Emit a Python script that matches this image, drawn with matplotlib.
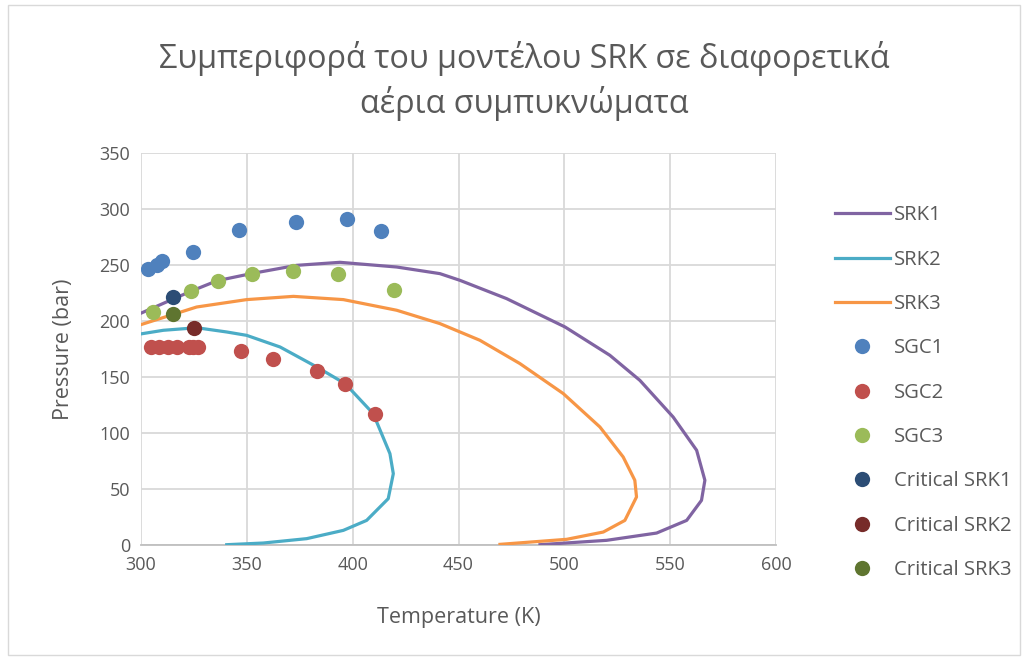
import matplotlib.pyplot as plt
from matplotlib.patches import Rectangle

plt.rcParams['font.family'] = ['Open Sans', 'DejaVu Sans']

# Καμπύλες SRK (T σε K, P σε bar)
srk1_T = [300, 323.5, 336, 352.6, 373.5, 394, 420.8, 441.2, 450.7, 472.7, 500.3, 521.5,
          535.7, 551.4, 562.5, 566.4, 564.8, 557.8, 543.6, 520, 488.5]
srk1_P = [207, 226.5, 236, 242.5, 249.7, 252.4, 248.2, 242.3, 236.3, 220, 194.7, 169.4,
          147, 114.3, 84.6, 57.8, 39.9, 22, 10.7, 4.2, 0.3]

srk2_T = [300, 310.5, 326.3, 340.5, 349.9, 365.7, 383, 396.5, 409.7, 417.6, 419.2,
          416.8, 406.6, 395.6, 378.3, 357.8, 340.5]
srk2_P = [188.5, 191.7, 194, 190.2, 187.2, 176.8, 159, 144, 117.3, 81.6, 63.7,
          41.4, 22, 13.1, 5.7, 1.8, 0.3]

srk3_T = [300, 326.3, 349.9, 372, 395.6, 420.8, 441.2, 460.1, 479, 499.5, 516.8,
          527.8, 533.3, 534.1, 528.6, 518.4, 501.1, 469.6]
srk3_P = [196.8, 212.5, 219.1, 222, 219.1, 209.6, 197.7, 182.8, 162, 135.2, 105.4,
          78.6, 57.8, 42.9, 22, 11.6, 5.1, 0.6]

# Πειραματικά σημεία
sgc1_T = [303.5, 307.4, 310.1, 324.7, 346.4, 373.2, 397.3, 413.2]
sgc1_P = [246.8, 250.3, 253.3, 261.6, 281.6, 288.4, 291.4, 280.4]

sgc2_T = [304.7, 308.7, 312.9, 317.2, 322.5, 324.8, 327.1, 347.4, 362.4, 383.0, 396.5, 410.4]
sgc2_P = [176.5, 176.5, 177, 177, 176.5, 176.5, 176.5, 173.2, 165.8, 155.4, 144.1, 117.0]

sgc3_T = [305.5, 323.5, 336.2, 352.6, 372.0, 393.2, 419.5]
sgc3_P = [207.8, 226.5, 236.0, 242.0, 244.4, 242.0, 227.4]

crit1_T, crit1_P = [315.3], [221.5]
crit2_T, crit2_P = [325.2], [194.1]
crit3_T, crit3_P = [315.1], [206.6]

fig = plt.figure(figsize=(10.27, 6.6), dpi=100)
ax = fig.add_axes([0.1373, 0.1742, 0.6183, 0.594])

lw = 2.3
ms = 11
ax.plot(srk1_T, srk1_P, color='#8064A2', lw=lw, label='SRK1', zorder=3)
ax.plot(srk2_T, srk2_P, color='#4BACC6', lw=lw, label='SRK2', zorder=3)
ax.plot(srk3_T, srk3_P, color='#F79646', lw=lw, label='SRK3', zorder=3)
ax.plot(sgc1_T, sgc1_P, 'o', color='#4F81BD', ms=ms, mew=0, label='SGC1', zorder=4)
ax.plot(sgc2_T, sgc2_P, 'o', color='#C0504D', ms=ms, mew=0, label='SGC2', zorder=4)
ax.plot(sgc3_T, sgc3_P, 'o', color='#9BBB59', ms=ms, mew=0, label='SGC3', zorder=4)
ax.plot(crit1_T, crit1_P, 'o', color='#2C4D75', ms=ms, mew=0, label='Critical SRK1', zorder=5)
ax.plot(crit2_T, crit2_P, 'o', color='#772C2A', ms=ms, mew=0, label='Critical SRK2', zorder=5)
ax.plot(crit3_T, crit3_P, 'o', color='#5F7530', ms=ms, mew=0, label='Critical SRK3', zorder=5)

ax.set_xlim(300, 600)
ax.set_ylim(0, 350)
ax.set_xticks(range(300, 601, 50))
ax.set_yticks(range(0, 351, 50))
ax.grid(True, color='#D9D9D9', lw=1.3)
ax.set_axisbelow(True)
for s in ['top', 'right', 'left']:
    ax.spines[s].set_visible(False)
ax.spines['bottom'].set_color('#BFBFBF')
ax.spines['bottom'].set_linewidth(1.3)
ax.tick_params(length=0, labelsize=13, colors='#595959', pad=8)

ax.set_xlabel('Temperature (K)', fontsize=15.5, color='#595959', labelpad=24)
ax.set_ylabel('Pressure (bar)', fontsize=15.5, color='#595959', labelpad=18)

fig.text(0.511, 0.877, 'Συμπεριφορά του μοντέλου SRK σε διαφορετικά\nαέρια συμπυκνώματα',
         ha='center', va='center', fontsize=23.3, color='#595959', linespacing=1.35)

ax.legend(loc='upper left', bbox_to_anchor=(0.805, 0.701), bbox_transform=fig.transFigure,
          frameon=False, fontsize=14.6, labelcolor='#595959', handlelength=2.7,
          handletextpad=0.2, labelspacing=1.2, borderaxespad=0)

fig.patches.append(Rectangle((0.008, 0.008), 0.985, 0.985, transform=fig.transFigure,
                             fill=False, edgecolor='#D9D9D9', lw=1))

fig.savefig('out.png', dpi=100)
